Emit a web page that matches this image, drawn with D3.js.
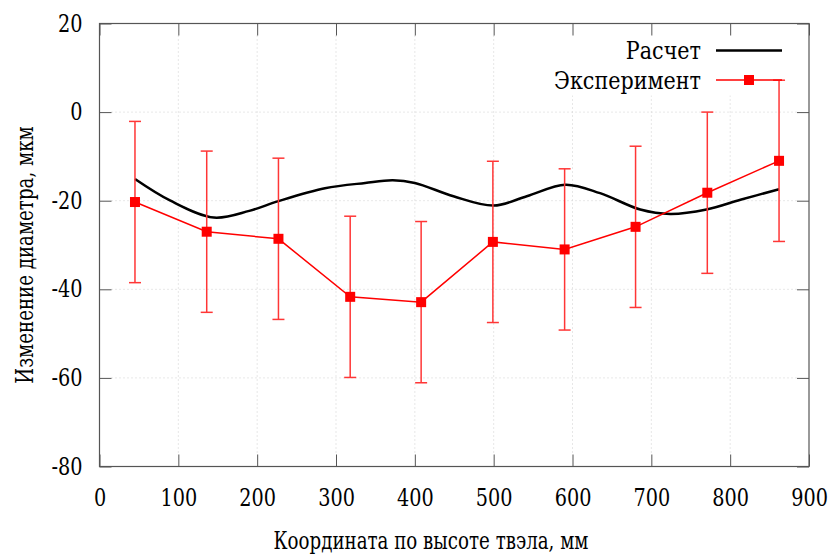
<!DOCTYPE html>
<html><head><meta charset="utf-8">
<script src="https://cdn.jsdelivr.net/npm/d3@7"></script>
<style>
html,body{margin:0;padding:0;background:#fff;}
</style></head>
<body>
<svg id="chart" width="833" height="554"></svg>
<script>
// Data
const xTicks = [0,100,200,300,400,500,600,700,800,900];
const yTicks = [20,0,-20,-40,-60,-80];
const calcX = [45,90,145,190,227,286,337,372,400,449,500,542,591,635,686,724,770,813,862];
const calcY = [-15.1,-20.0,-23.8,-22.3,-20.1,-17.2,-16.0,-15.4,-16.0,-19.0,-21.1,-19.0,-16.4,-18.3,-22.0,-23.0,-22.0,-19.8,-17.4];
const expX = [45,136,227,318,408,499,590,680,771,862];
const expY = [-20.3,-27.0,-28.6,-41.7,-42.9,-29.3,-31.0,-25.9,-18.2,-11.0];
const expErr = [18.2,18.2,18.2,18.2,18.2,18.2,18.2,18.2,18.2,18.2];
const seriesNames = ["Расчет","Эксперимент"];
const xTitle = "Координата по высоте твэла, мм";
const yTitle = "Изменение диаметра, мкм";

const FONT = "DejaVu Serif";
const fs = 24;
const svg = d3.select("#chart").attr("font-family",FONT).attr("font-size",fs);
const L=99.5, R=809, T=23.5, B=466.5;
const x = d3.scaleLinear().domain([0,900]).range([L,R]);
const y = d3.scaleLinear().domain([-80,20]).range([B,T]);

// grid
const grid = svg.append("g").attr("stroke","#cfcfcf").attr("stroke-width",1).attr("stroke-dasharray","1,3");
xTicks.slice(1,-1).forEach(v=>grid.append("line").attr("x1",x(v)).attr("x2",x(v)).attr("y1",T+12).attr("y2",B-12));
yTicks.slice(1,-1).forEach(v=>grid.append("line").attr("y1",y(v)).attr("y2",y(v)).attr("x1",L+12).attr("x2",R-12));

// legend background
svg.append("rect").attr("x",545).attr("y",T+1).attr("width",R-546).attr("height",71).attr("fill","#fff");

// axes (ticks inward)
const ax = svg.append("g");
ax.append("g").attr("transform",`translate(0,${B})`).call(d3.axisBottom(x).tickValues(xTicks).tickSizeInner(-12).tickSizeOuter(0).tickPadding(22).tickFormat(d=>String(d)));
ax.append("g").attr("transform",`translate(0,${T})`).call(d3.axisTop(x).tickValues(xTicks).tickSizeInner(-12).tickSizeOuter(0).tickFormat(""));
ax.append("g").attr("transform",`translate(${L},0)`).call(d3.axisLeft(y).tickValues(yTicks).tickSizeInner(-12).tickSizeOuter(0).tickPadding(17).tickFormat(d=>String(d)));
ax.append("g").attr("transform",`translate(${R},0)`).call(d3.axisRight(y).tickValues(yTicks).tickSizeInner(-12).tickSizeOuter(0).tickFormat(""));
ax.selectAll(".domain").remove();
ax.selectAll("g").attr("font-family",FONT).attr("font-size",fs);
ax.selectAll("line").attr("stroke","#555").attr("stroke-width",1);
ax.selectAll("text").attr("fill","#000").classed("tick-label",true);
svg.append("rect").attr("x",L).attr("y",T).attr("width",R-L).attr("height",B-T).attr("fill","none").attr("stroke","#555").attr("stroke-width",1.2);

// calc curve
const line = d3.line().x((d,i)=>x(calcX[i])).y(d=>y(d)).curve(d3.curveCatmullRom.alpha(0.5));
svg.append("path").attr("d",line(calcY)).attr("fill","none").attr("stroke","#000").attr("stroke-width",2.5);

// experiment
const eg = svg.append("g");
expX.forEach((xv,i)=>{
  const cx=x(xv), y1=y(expY[i]+expErr[i]), y2=y(expY[i]-expErr[i]);
  eg.append("line").attr("x1",cx).attr("x2",cx).attr("y1",y1).attr("y2",y2).attr("stroke","#ff3636").attr("stroke-width",1.5);
  [y1,y2].forEach(yy=>eg.append("line").attr("x1",cx-6).attr("x2",cx+6).attr("y1",yy).attr("y2",yy).attr("stroke","#ff3636").attr("stroke-width",1.5));
});
const eline = d3.line().x((d,i)=>x(expX[i])).y(d=>y(d));
svg.append("path").attr("d",eline(expY)).attr("fill","none").attr("stroke","#ff0000").attr("stroke-width",1.5);
svg.append("g").selectAll("rect").data(expY).join("rect")
  .attr("x",(d,i)=>x(expX[i])-5).attr("y",d=>y(d)-5).attr("width",10).attr("height",10).attr("fill","#ff0000");

// legend
const lg = svg.append("g");
lg.append("text").attr("x",701).attr("y",59).attr("text-anchor","end").text(seriesNames[0]);
lg.append("line").attr("x1",716).attr("x2",782).attr("y1",50.5).attr("y2",50.5).attr("stroke","#000").attr("stroke-width",2.5);
const ref = lg.append("text").attr("x",701).attr("y",89).attr("text-anchor","end").text(seriesNames[1]);
lg.append("line").attr("x1",716).attr("x2",782).attr("y1",80).attr("y2",80).attr("stroke","#ff0000").attr("stroke-width",1.5);
lg.append("rect").attr("x",744).attr("y",75).attr("width",10).attr("height",10).attr("fill","#ff0000");

// titles
svg.append("text").attr("class","title").attr("x",431).attr("y",549).attr("text-anchor","middle").text(xTitle);
svg.append("text").attr("class","title").attr("transform","translate(33,255) rotate(-90)").attr("text-anchor","middle").text(yTitle);

// condense the serif font horizontally to Times-like proportions
const k = 147 / ref.node().getComputedTextLength();
svg.selectAll("text").each(function(){
  const s = d3.select(this);
  const f = k * (s.classed("title") ? 0.88 : (s.classed("tick-label") ? 0.93 : 1));
  const x0 = +(s.attr("x") || 0);
  const tr = s.attr("transform") || "";
  s.attr("x", x0 / f).attr("transform", (tr + ` scale(${f},1)`).trim());
});
</script>
</body></html>
